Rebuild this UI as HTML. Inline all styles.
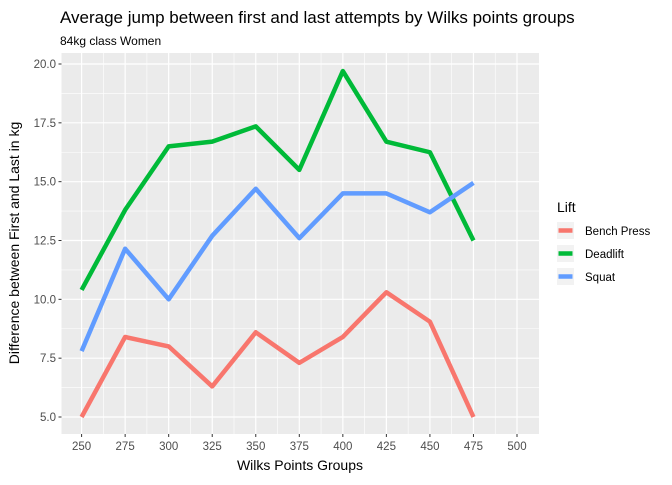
<!DOCTYPE html>
<html><head><meta charset="utf-8"><style>
body{margin:0;background:#fff;font-family:"Liberation Sans",Arial,sans-serif}
</style></head><body>
<svg id="chart" width="672" height="480" xmlns="http://www.w3.org/2000/svg" font-family="Liberation Sans, Arial, sans-serif">
<text x="60" y="23" font-size="17" fill="#000">Average jump between first and last attempts by Wilks points groups</text>
<text x="60" y="45" font-size="12" fill="#000">84kg class Women</text>
<rect x="61.5" y="53" width="477.5" height="381" fill="#ebebeb"/>
<g id="grid"></g><g id="axes"></g><g id="series"></g>
<text x="300" y="470" font-size="14" text-anchor="middle" fill="#000">Wilks Points Groups</text>
<text transform="translate(19,243) rotate(-90)" font-size="14" text-anchor="middle" fill="#000">Difference between First and Last in kg</text>
<g id="legend">
<text x="557" y="212" font-size="14" fill="#000">Lift</text>
</g>
</svg>
<script>
const categories=[250,275,300,325,350,375,400,425,450,475];
const benchPress=[5.0,8.4,8.0,6.3,8.6,7.3,8.4,10.3,9.05,5.0];
const deadlift=[10.4,13.8,16.5,16.7,17.35,15.5,19.7,16.7,16.25,12.5];
const squat=[7.8,12.15,10.0,12.7,14.7,12.6,14.5,14.5,13.7,14.95];
const xTicks=[250,275,300,325,350,375,400,425,450,475,500];
const yTicks=[5.0,7.5,10.0,12.5,15.0,17.5,20.0];
const seriesNames=["Bench Press","Deadlift","Squat"];
const NS="http://www.w3.org/2000/svg";
const x=v=>81.6+(v-250)*(517-81.6)/250;
const y=v=>417-(v-5)*(417-64)/15;
function mk(tag,attrs,parent){const e=document.createElementNS(NS,tag);for(const k in attrs)e.setAttribute(k,attrs[k]);parent.appendChild(e);return e;}
const grid=document.getElementById('grid'),axes=document.getElementById('axes'),ser=document.getElementById('series'),leg=document.getElementById('legend');
// minor grid
for(let i=0;i<xTicks.length-1;i++){const l=mk('line',{x1:x(xTicks[i]+12.5),x2:x(xTicks[i]+12.5),y1:53,y2:434,stroke:'#fff','stroke-width':0.6},grid);}
mk('line',{x1:x(237.5),x2:x(237.5),y1:53,y2:434,stroke:'#fff','stroke-width':0.6},grid);
for(let i=0;i<yTicks.length-1;i++){const l=mk('line',{x1:61.5,x2:539,y1:y(yTicks[i]+1.25),y2:y(yTicks[i]+1.25),stroke:'#fff','stroke-width':0.6},grid);}
xTicks.forEach(t=>{const l=mk('line',{x1:x(t),x2:x(t),y1:53,y2:434,stroke:'#fff','stroke-width':1.2},grid);
const tk=mk('line',{x1:x(t),x2:x(t),y1:434,y2:437,stroke:'#333'},axes);
const tx=mk('text',{x:x(t),y:450,'font-size':11.5,'text-anchor':'middle',fill:'#4d4d4d'},axes);tx.textContent=t;});
yTicks.forEach(t=>{const l=mk('line',{x1:61.5,x2:539,y1:y(t),y2:y(t),stroke:'#fff','stroke-width':1.2},grid);
const tk=mk('line',{x1:58.5,x2:61.5,y1:y(t),y2:y(t),stroke:'#333'},axes);
const tx=mk('text',{x:56,y:y(t)+4,'font-size':11.5,'text-anchor':'end',fill:'#4d4d4d'},axes);tx.textContent=t.toFixed(1);});
const data=[benchPress,deadlift,squat],colors=['#f8766d','#00ba38','#619cff'],names=['bench-press-line','deadlift-line','squat-line'];
data.forEach((d,i)=>{const p=mk('polyline',{points:d.map((v,j)=>x(categories[j])+','+y(v)).join(' '),fill:'none',stroke:colors[i],'stroke-width':4.5,'stroke-linejoin':'round'},ser);

const r=mk('rect',{x:557,y:222+i*23,width:17,height:17,fill:'#f2f2f2'},leg);
const l=mk('line',{x1:558.5,x2:572.5,y1:230.5+i*23,y2:230.5+i*23,stroke:colors[i],'stroke-width':4.5},leg);
const t=mk('text',{x:585,y:235+i*23,'font-size':11.5,fill:'#000'},leg);t.textContent=seriesNames[i];});
</script>
</body></html>
